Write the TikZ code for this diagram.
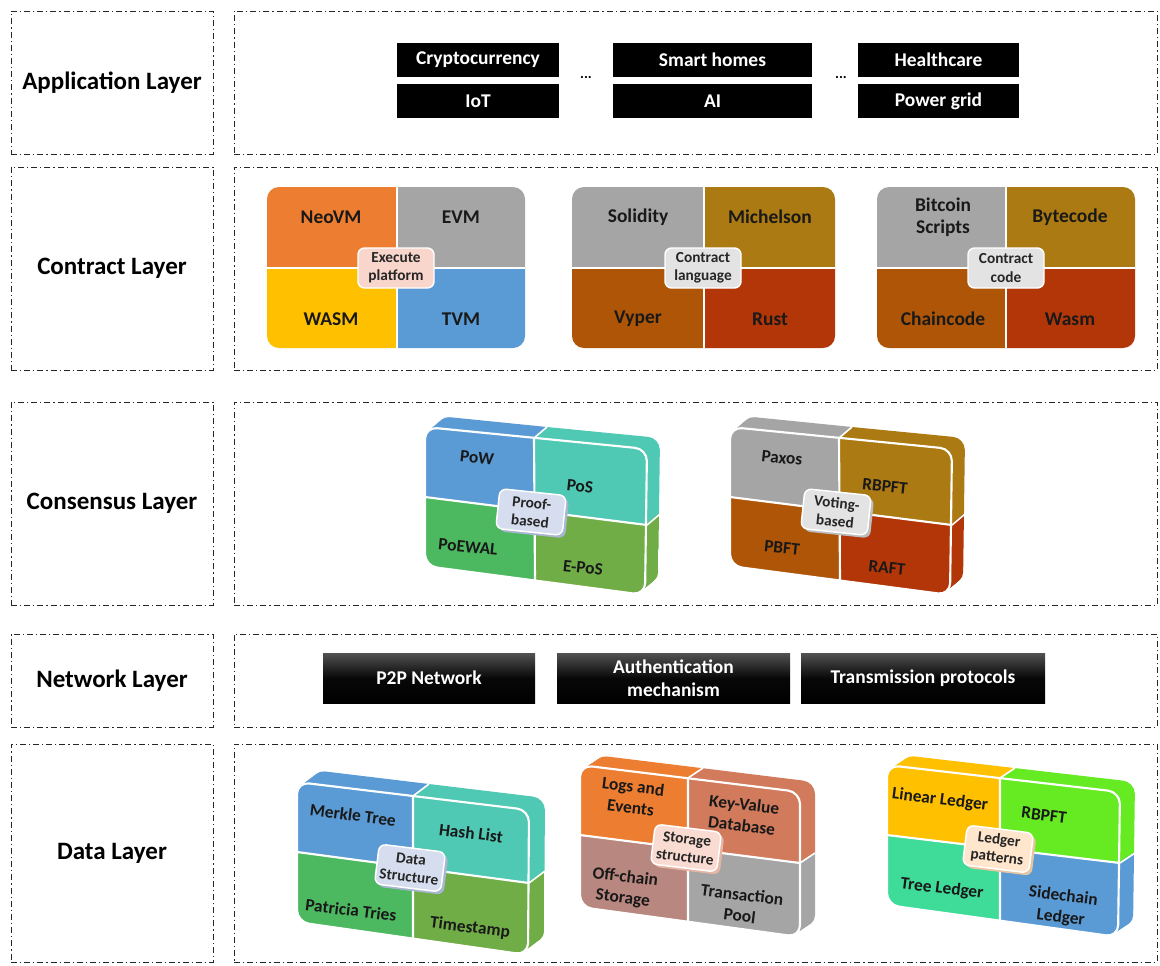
\documentclass[tikz,border=0pt]{standalone}
\usepackage{fontspec}
\setmainfont{Carlito}
\usetikzlibrary{calc,shadows}

% tile palette
\definecolor{cOrange}{HTML}{ED7D31}
\definecolor{cGray}{HTML}{A5A5A5}
\definecolor{cGold}{HTML}{FFC000}
\definecolor{cBlue}{HTML}{5B9BD5}
\definecolor{cTeal}{HTML}{4FC8B4}
\definecolor{cGreen}{HTML}{4CB860}
\definecolor{cOlive}{HTML}{70AD47}
\definecolor{cOchre}{HTML}{AC7A12}
\definecolor{cRust}{HTML}{AE5507}
\definecolor{cBrick}{HTML}{B23608}
\definecolor{cSalmon}{HTML}{D27A5C}
\definecolor{cRose}{HTML}{B8877F}
\definecolor{cLime}{HTML}{66EB22}
\definecolor{cMint}{HTML}{3FDB99}
% centre badges
\definecolor{hPink}{HTML}{F8D6CC}
\definecolor{hGray}{HTML}{E3E3E3}
\definecolor{hBlue}{HTML}{D5DDEE}
\definecolor{hSalmon}{HTML}{FADBD1}
\definecolor{hPeach}{HTML}{FFE6CC}
\definecolor{sBlue}{HTML}{A9B6D2}
\definecolor{sGray}{HTML}{BDBDBD}
\definecolor{sSalmon}{HTML}{E6B5A4}
\definecolor{sPeach}{HTML}{E6C6A2}

% outline of a block's front face
\newcommand{\blockoutline}[1]{(#1-TL) -- (#1-TR) -- (#1-BR) -- (#1-BL) -- cycle}
% the four coloured quarters of a block
\newcommand{\quadfill}[5]{%
  \fill[#2] (#1-TL) -- (#1-T) -- (#1-M) -- (#1-L) -- cycle;
  \fill[#3] (#1-T) -- (#1-TR) -- (#1-R) -- (#1-M) -- cycle;
  \fill[#4] (#1-L) -- (#1-M) -- (#1-B) -- (#1-BL) -- cycle;
  \fill[#5] (#1-M) -- (#1-R) -- (#1-BR) -- (#1-B) -- cycle;
}
% flat rounded block split in four
\newcommand{\flatblock}[5]{%
  \coordinate (#1-M) at (intersection of #1-T--#1-B and #1-L--#1-R);
  \begin{scope}
    \clip[rounded corners=9pt] \blockoutline{#1};
    \quadfill{#1}{#2}{#3}{#4}{#5}
  \end{scope}
  \draw[white, line width=0.8pt] (#1-T) -- (#1-B) (#1-L) -- (#1-R);
}
% extruded slab: prefix, depth x, depth y, four colours
\newcommand{\slabblock}[7]{%
  \coordinate (#1-M) at (intersection of #1-T--#1-B and #1-L--#1-R);
  \foreach \k in {16,15,...,1}{%
    \begin{scope}[transform canvas={shift={({\k*(#2)/16},{\k*(#3)/16})}}]
      \clip[rounded corners=9pt] \blockoutline{#1};
      \quadfill{#1}{#4}{#5}{#6}{#7}
    \end{scope}
  }
  \draw[white, line width=1.2pt] (#1-T) -- ++(#2,#3) (#1-R) -- ++(#2,#3);
  \begin{scope}
    \clip[rounded corners=9pt] \blockoutline{#1};
    \quadfill{#1}{#4}{#5}{#6}{#7}
  \end{scope}
  \draw[white, line width=1.6pt] (#1-T) -- (#1-B) (#1-L) -- (#1-R);
  \draw[white, line width=1.6pt, rounded corners=9pt] \blockoutline{#1};
}

\begin{document}
\begin{tikzpicture}[x=0.75pt, y=-0.75pt,
  frame/.style={draw=black!85, line width=0.75pt,
    dash pattern=on 4.5pt off 2.2pt on 1pt off 2.2pt, inner sep=0pt},
  layertxt/.style={font=\fontsize{18.75}{22}\selectfont\bfseries},
  appbox/.style={fill=black, text=white, inner sep=0pt, minimum height=25.5pt,
    font=\fontsize{14.6}{17}\selectfont\bfseries},
  dots/.style={font=\fontsize{11}{13}\selectfont\bfseries, inner sep=0pt},
  netbox/.style={top color=black!68, bottom color=black, middle color=black!97,
    text=white, inner sep=0pt, minimum height=37.5pt, align=center,
    font=\fontsize{14.6}{17}\selectfont\bfseries},
  tile/.style={font=\fontsize{14.6}{16.5}\selectfont\bfseries, text=black!90,
    align=center, inner sep=0pt},
  tilethree/.style={font=\fontsize{13}{16}\selectfont\bfseries, text=black!90,
    align=center, inner sep=0pt},
  hub/.style={fill=#1, draw=white, line width=1.1pt, rounded corners=5pt,
    font=\fontsize{11.5}{13.6}\selectfont\bfseries, text=black!85, align=center,
    inner sep=1pt, minimum width=57pt, minimum height=30pt},
  hubthree/.style 2 args={hub=#1, minimum width=50pt, minimum height=30pt,
    drop shadow={shadow xshift=2.2pt, shadow yshift=-2.2pt, fill=#2, opacity=1}},
]
\useasboundingbox (0,0) rectangle (1160,965);
\fill[white] (0,0) rectangle (1160,965);

% ---- layer frames ----
\node[frame, layertxt, minimum width=151.5pt, minimum height=107.25pt] (appL) at (112,82.5) {Application Layer};
\node[frame, minimum width=692.25pt, minimum height=107.25pt] (appR) at (695.5,82.5) {};
\node[frame, layertxt, minimum width=151.5pt, minimum height=152.25pt] (conL) at (112,268.5) {Contract Layer};
\node[frame, minimum width=692.25pt, minimum height=152.25pt] (conR) at (695.5,268.5) {};
\node[frame, layertxt, minimum width=151.5pt, minimum height=152.25pt] (cnsL) at (112,503.5) {Consensus Layer};
\node[frame, minimum width=692.25pt, minimum height=152.25pt] (cnsR) at (695.5,503.5) {};
\node[frame, layertxt, minimum width=151.5pt, minimum height=69.75pt] (netL) at (112,680.5) {Network Layer};
\node[frame, minimum width=692.25pt, minimum height=69.75pt] (netR) at (695.5,680.5) {};
\node[frame, layertxt, minimum width=151.5pt, minimum height=163.5pt] (datL) at (112,853) {Data Layer};
\node[frame, minimum width=692.25pt, minimum height=163.5pt] (datR) at (695.5,853) {};

% ---- application layer ----
\node[appbox, minimum width=121.5pt] (crypto) at (478,60) {Cryptocurrency};
\node[appbox, minimum width=121.5pt] (iot) at (478,101) {IoT};
\node[appbox, minimum width=149.25pt] (homes) at (712.5,60) {Smart homes};
\node[appbox, minimum width=149.25pt] (ai) at (712.5,101) {AI};
\node[appbox, minimum width=120.75pt] (health) at (938.5,60) {Healthcare};
\node[appbox, minimum width=120.75pt] (grid) at (938.5,101) {Power grid};
\node[dots] (dotsA) at (586,78) {...};
\node[dots] (dotsB) at (841,78) {...};

% ---- contract layer ----
\coordinate (ep-TL) at (267,187); \coordinate (ep-TR) at (525,187);
\coordinate (ep-BR) at (525,348); \coordinate (ep-BL) at (267,348);
\coordinate (ep-T) at (397,187);  \coordinate (ep-B) at (397,348);
\coordinate (ep-L) at (267,268);  \coordinate (ep-R) at (525,268);
\flatblock{ep}{cOrange}{cGray}{cGold}{cBlue}

\coordinate (cl-TL) at (572,187); \coordinate (cl-TR) at (835,187);
\coordinate (cl-BR) at (835,348); \coordinate (cl-BL) at (572,348);
\coordinate (cl-T) at (704,187);  \coordinate (cl-B) at (704,348);
\coordinate (cl-L) at (572,268);  \coordinate (cl-R) at (835,268);
\flatblock{cl}{cGray}{cOchre}{cRust}{cBrick}

\coordinate (cc-TL) at (877,187); \coordinate (cc-TR) at (1135,187);
\coordinate (cc-BR) at (1135,348); \coordinate (cc-BL) at (877,348);
\coordinate (cc-T) at (1006,187); \coordinate (cc-B) at (1006,348);
\coordinate (cc-L) at (877,268);  \coordinate (cc-R) at (1135,268);
\flatblock{cc}{cGray}{cOchre}{cRust}{cBrick}

\node[tile] (neovm) at (331,217) {NeoVM};
\node[tile] (evm) at (461,217) {EVM};
\node[tile] (wasm) at (331,319) {WASM};
\node[tile] (tvm) at (461,319) {TVM};
\node[hub=hPink] (execp) at (396,268) {Execute\\platform};

\node[tile] (solidity) at (638,217) {Solidity};
\node[tile] (michelson) at (770,217) {Michelson};
\node[tile] (vyper) at (638,319) {Vyper};
\node[tile] (rust) at (770,319) {Rust};
\node[hub=hGray] (clang) at (703,268) {Contract\\language};

\node[tile] (bitcoin) at (943,217) {Bitcoin\\Scripts};
\node[tile] (bytecode) at (1070,217) {Bytecode};
\node[tile] (chaincode) at (943,319) {Chaincode};
\node[tile] (wasmb) at (1070,319) {Wasm};
\node[hub=hGray] (ccode) at (1006,268) {Contract\\code};

% ---- consensus layer ----
\coordinate (pb-TL) at (425,427); \coordinate (pb-TR) at (647,449);
\coordinate (pb-BR) at (645,595); \coordinate (pb-BL) at (425,566);
\coordinate (pb-T) at (534,438);  \coordinate (pb-B) at (535,580);
\coordinate (pb-L) at (425,497);  \coordinate (pb-R) at (647,525);
\slabblock{pb}{13}{-11}{cBlue}{cTeal}{cGreen}{cOlive}

\coordinate (vb-TL) at (730,427); \coordinate (vb-TR) at (952,449);
\coordinate (vb-BR) at (950,595); \coordinate (vb-BL) at (730,566);
\coordinate (vb-T) at (839,438);  \coordinate (vb-B) at (840,580);
\coordinate (vb-L) at (730,497);  \coordinate (vb-R) at (952,525);
\slabblock{vb}{13}{-11}{cGray}{cOchre}{cRust}{cBrick}

\node[tilethree, rotate=-6] (pow) at (477,458) {PoW};
\node[tilethree, rotate=-6] (pos) at (580,486) {PoS};
\node[tilethree, rotate=-6] (poewal) at (468,547) {PoEWAL};
\node[tilethree, rotate=-6] (epos) at (583,568) {E-PoS};
\node[hubthree={hBlue}{sBlue}, rotate=-6] (proof) at (531,512) {Proof-\\based};

\node[tilethree, rotate=-6] (paxos) at (782,458) {Paxos};
\node[tilethree, rotate=-6] (rbpft) at (885,486) {RBPFT};
\node[tilethree, rotate=-6] (pbft) at (782,548) {PBFT};
\node[tilethree, rotate=-6] (raft) at (887,568) {RAFT};
\node[hubthree={hGray}{sGray}, rotate=-6] (voting) at (836,512) {Voting-\\based};

% ---- network layer ----
\node[netbox, minimum width=159pt] (p2p) at (429,678) {P2P Network};
\node[netbox, minimum width=174.75pt] (auth) at (673.5,678) {Authentication\\mechanism};
\node[netbox, minimum width=183pt] (trans) at (923,678) {Transmission protocols};

% ---- data layer ----
\coordinate (ds-TL) at (297,782); \coordinate (ds-TR) at (529,810);
\coordinate (ds-BR) at (528,955); \coordinate (ds-BL) at (297,922);
\coordinate (ds-T) at (413,796);  \coordinate (ds-B) at (413,939);
\coordinate (ds-L) at (297,852);  \coordinate (ds-R) at (529,883);
\slabblock{ds}{16}{-12}{cBlue}{cTeal}{cGreen}{cOlive}

\coordinate (ss-TL) at (580,765); \coordinate (ss-TR) at (800,792);
\coordinate (ss-BR) at (800,937); \coordinate (ss-BL) at (580,907);
\coordinate (ss-T) at (688,778);  \coordinate (ss-B) at (688,922);
\coordinate (ss-L) at (580,835);  \coordinate (ss-R) at (800,863);
\slabblock{ss}{15}{-10}{cOrange}{cSalmon}{cRose}{cGray}

\coordinate (lp-TL) at (887,765); \coordinate (lp-TR) at (1120,792);
\coordinate (lp-BR) at (1118,937); \coordinate (lp-BL) at (887,905);
\coordinate (lp-T) at (1000,778); \coordinate (lp-B) at (1000,921);
\coordinate (lp-L) at (887,835);  \coordinate (lp-R) at (1120,863);
\slabblock{lp}{15}{-10}{cGold}{cLime}{cMint}{cBlue}

\node[tilethree, rotate=-7] (merkle) at (353,815) {Merkle Tree};
\node[tilethree, rotate=-7] (hashl) at (471,833) {Hash List};
\node[tilethree, rotate=-7] (patricia) at (351,910) {Patricia Tries};
\node[tilethree, rotate=-7] (tstamp) at (470,928) {Timestamp};
\node[hubthree={hBlue}{sBlue}, rotate=-7] (dstruct) at (410,868) {Data\\Structure};

\node[tilethree, rotate=-7] (logs) at (632,797) {Logs and\\Events};
\node[tilethree, rotate=-7] (kv) at (743,815) {Key-Value\\Database};
\node[tilethree, rotate=-7] (offc) at (624,888) {Off-chain\\Storage};
\node[tilethree, rotate=-7] (txpool) at (741,905) {Transaction\\Pool};
\node[hubthree={hSalmon}{sSalmon}, rotate=-7] (sstruct) at (686,848) {Storage\\structure};

\node[tilethree, rotate=-7] (linear) at (940,800) {Linear Ledger};
\node[tilethree, rotate=-7] (rbpftb) at (1044,815) {RBPFT};
\node[tilethree, rotate=-7] (treel) at (942,889) {Tree Ledger};
\node[tilethree, rotate=-7] (sidec) at (1062,907) {Sidechain\\Ledger};
\node[hubthree={hPeach}{sPeach}, rotate=-7] (lpat) at (998,849) {Ledger\\patterns};
\end{tikzpicture}
\end{document}
